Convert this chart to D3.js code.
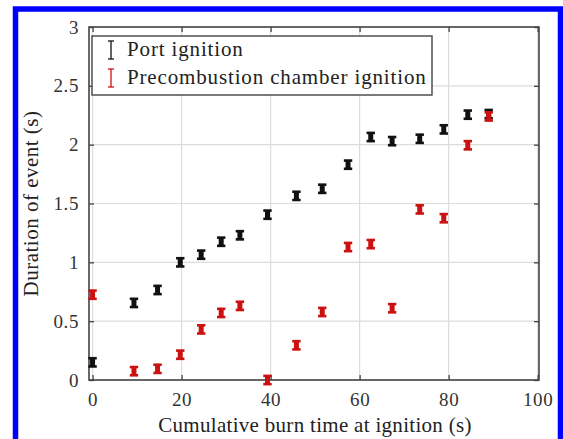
<!DOCTYPE html>
<html><head><meta charset="utf-8">
<script src="https://cdn.jsdelivr.net/npm/d3@7"></script>
<style>html,body{margin:0;padding:0;background:#fff;}svg{display:block;}
svg text{font-family:"Liberation Serif","DejaVu Serif",serif !important;}</style>
</head><body>
<svg id="c" width="563" height="439"></svg>
<script>
const burnTime = [0, 9.3, 14.6, 19.7, 24.4, 28.9, 33.1, 39.3, 45.8, 51.6, 57.4, 62.5, 67.3, 73.5, 78.9, 84.3, 89.0];
const portDuration = [0.15, 0.655, 0.765, 1.0, 1.065, 1.175, 1.23, 1.405, 1.565, 1.625, 1.83, 2.065, 2.03, 2.05, 2.13, 2.255, 2.26];
const chamberDuration = [0.725, 0.075, 0.095, 0.215, 0.43, 0.57, 0.63, 0.0, 0.295, 0.578, 1.13, 1.155, 0.61, 1.45, 1.375, 1.995, 2.24];
const errHalf = 0.035;
const xTicks = [0, 20, 40, 60, 80, 100];
const yTicks = [0, 0.5, 1, 1.5, 2, 2.5, 3];
const yTickLabels = ["0", "0.5", "1", "1.5", "2", "2.5", "3"];
const seriesNames = ["Port ignition", "Precombustion chamber ignition"];
const seriesColors = ["#111111", "#cc1111"];

const svg = d3.select("#c");
const L = 89, R = 539, T = 27, B = 380;
const x = d3.scaleLinear().domain([-0.8, 100.3]).range([L, R]);
const y = d3.scaleLinear().domain([0, 3]).range([B, T]);

// blue frame
svg.append("rect").attr("x", 15.5).attr("y", 9).attr("width", 545).attr("height", 460)
  .attr("fill", "none").attr("stroke", "#0000ff").attr("stroke-width", 5.5);

// grid
const g = svg.append("g");
g.selectAll(".gx").data(xTicks).enter().append("line")
  .attr("x1", d => x(d)).attr("x2", d => x(d)).attr("y1", T).attr("y2", B)
  .attr("stroke", "#dcdcdc").attr("stroke-width", 1.2);
g.selectAll(".gy").data(yTicks).enter().append("line")
  .attr("x1", L).attr("x2", R).attr("y1", d => y(d)).attr("y2", d => y(d))
  .attr("stroke", "#dcdcdc").attr("stroke-width", 1.2);

// axes (inward ticks)
const axColor = "#444";
const xb = svg.append("g").attr("transform", `translate(0,${B})`)
  .call(d3.axisBottom(x).tickValues(xTicks).tickSizeInner(-5).tickSizeOuter(0).tickPadding(13));
const xt = svg.append("g").attr("transform", `translate(0,${T})`)
  .call(d3.axisTop(x).tickValues(xTicks).tickSizeInner(-5).tickSizeOuter(0).tickFormat(""));
const yl = svg.append("g").attr("transform", `translate(${L},0)`)
  .call(d3.axisLeft(y).tickValues(yTicks).tickFormat((d, i) => yTickLabels[i]).tickSizeInner(-5).tickSizeOuter(0).tickPadding(10));
const yr = svg.append("g").attr("transform", `translate(${R},0)`)
  .call(d3.axisRight(y).tickValues(yTicks).tickSizeInner(-5).tickSizeOuter(0).tickFormat(""));
[xb, xt, yl, yr].forEach(a => {
  a.attr("font-family", null);
  a.select(".domain").remove();
  a.selectAll(".tick line").attr("stroke", axColor).attr("stroke-width", 1.3);
  a.selectAll("text").attr("font-size", 19).attr("fill", "#333").attr("letter-spacing", 0.6);
});
svg.append("rect").attr("x", L).attr("y", T).attr("width", R - L).attr("height", B - T)
  .attr("fill", "none").attr("stroke", axColor).attr("stroke-width", 1.6);

// error-bar markers
function drawSeries(vals, color) {
  const grp = svg.append("g");
  const d = burnTime.map((t, i) => ({t, v: vals[i]}));
  grp.selectAll(".v").data(d).enter().append("line")
    .attr("x1", p => x(p.t)).attr("x2", p => x(p.t))
    .attr("y1", p => y(p.v - errHalf)).attr("y2", p => y(p.v + errHalf))
    .attr("stroke", color).attr("stroke-width", 5);
  ["lo", "hi"].forEach(k => {
    grp.selectAll("." + k).data(d).enter().append("line")
      .attr("x1", p => x(p.t) - 4.2).attr("x2", p => x(p.t) + 4.2)
      .attr("y1", p => y(p.v + (k === "lo" ? -errHalf : errHalf)))
      .attr("y2", p => y(p.v + (k === "lo" ? -errHalf : errHalf)))
      .attr("stroke", color).attr("stroke-width", 2.6);
  });
}
drawSeries(portDuration, seriesColors[0]);
drawSeries(chamberDuration, seriesColors[1]);

// legend
const lg = svg.append("g");
lg.append("rect").attr("x", 92).attr("y", 36).attr("width", 340).attr("height", 59)
  .attr("fill", "#fff").attr("stroke", axColor).attr("stroke-width", 1.4);
seriesNames.forEach((nm, i) => {
  const cy = 50 + i * 28;
  const c = seriesColors[i];
  lg.append("line").attr("x1", 111).attr("x2", 111).attr("y1", cy - 9).attr("y2", cy + 9).attr("stroke", c).attr("stroke-width", 1.3);
  lg.append("line").attr("x1", 108).attr("x2", 114).attr("y1", cy - 9).attr("y2", cy - 9).attr("stroke", c).attr("stroke-width", 1.3);
  lg.append("line").attr("x1", 108).attr("x2", 114).attr("y1", cy + 9).attr("y2", cy + 9).attr("stroke", c).attr("stroke-width", 1.3);
  lg.append("text").attr("x", 127).attr("y", cy + 6).attr("font-size", 21).attr("letter-spacing", 0.85)
    .attr("fill", "#222").text(nm);
});

// axis titles
svg.append("text").attr("x", (L + R) / 2 + 1).attr("y", 432).attr("text-anchor", "middle")
  .attr("font-size", 21).attr("letter-spacing", 0.3).attr("fill", "#222")
  .text("Cumulative burn time at ignition (s)");
svg.append("text").attr("transform", `translate(38,${(T + B) / 2}) rotate(-90)`).attr("text-anchor", "middle")
  .attr("font-size", 21).attr("letter-spacing", 0.5).attr("fill", "#222")
  .text("Duration of event (s)");
</script>
</body></html>
